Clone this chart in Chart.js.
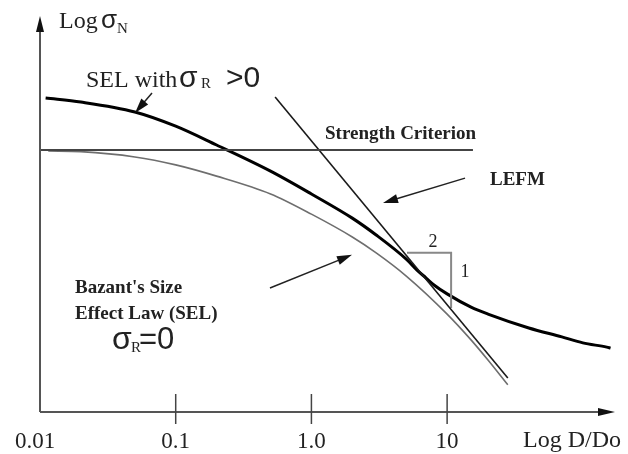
<!DOCTYPE html>
<html>
<head>
<meta charset="utf-8">
<script src="https://cdn.jsdelivr.net/npm/chart.js@4.4.0/dist/chart.umd.min.js"></script>
<style>
  html, body { margin: 0; padding: 0; background: #fff; }
  #wrap { width: 628px; height: 454px; position: relative; }
</style>
</head>
<body>
<div id="wrap"><canvas id="sizeChart"></canvas></div>
<script>
// D/Do and Log sigma_N (arbitrary log units)
const selRX = [0.011, 0.02, 0.05, 0.1, 0.2, 0.5, 1, 2, 3, 5, 6, 7, 8, 10, 15, 20, 40, 70, 100, 150, 160];
const selRY = [0.949, 0.937, 0.907, 0.864, 0.807, 0.728, 0.659, 0.586, 0.535, 0.462, 0.429, 0.405, 0.384, 0.357, 0.317, 0.296, 0.254, 0.227, 0.209, 0.196, 0.193];
const selX = [0.0115, 0.02, 0.05, 0.1, 0.2, 0.5, 1, 2, 3, 5, 10, 15, 20, 28];
const selY = [0.789, 0.787, 0.771, 0.747, 0.713, 0.659, 0.598, 0.529, 0.481, 0.411, 0.296, 0.218, 0.157, 0.082];
const lefmX = [0.54, 28];
const lefmY = [0.952, 0.103];
const strengthX = [0.01, 15.5];
const strengthY = [0.792, 0.792];
const slopeX = [5.06, 10.7, 10.7];
const slopeY = [0.481, 0.481, 0.314];
const tickValues = [0.01, 0.1, 1, 10];
const tickLabels = ["0.01", "0.1", "1.0", "10"];

function pts(xs, ys) {
  return xs.map((x, i) => ({ x: x, y: ys[i] }));
}

const SERIF = "'Liberation Serif', 'DejaVu Serif', serif";
const SANS = "'Liberation Sans', Arial, sans-serif";

function arrowHead(ctx, x0, y0, x1, y1, len, half) {
  const a = Math.atan2(y1 - y0, x1 - x0);
  ctx.beginPath();
  ctx.moveTo(x1, y1);
  ctx.lineTo(x1 - len * Math.cos(a) + half * Math.sin(a), y1 - len * Math.sin(a) - half * Math.cos(a));
  ctx.lineTo(x1 - len * Math.cos(a) - half * Math.sin(a), y1 - len * Math.sin(a) + half * Math.cos(a));
  ctx.closePath();
  ctx.fill();
}

function text(ctx, str, x, y, font, align) {
  ctx.font = font;
  ctx.textAlign = align || "left";
  ctx.textBaseline = "alphabetic";
  ctx.fillText(str, x, y);
}

// axes, ticks, arrows and labels
const decorations = {
  id: "decorations",
  afterDatasetsDraw(chart) {
    const ctx = chart.ctx;
    const area = chart.chartArea;
    const xs = chart.scales.x;
    const ys = chart.scales.y;
    ctx.save();

    // axes
    ctx.strokeStyle = "#555";
    ctx.fillStyle = "#111";
    ctx.lineWidth = 2;
    ctx.beginPath();
    ctx.moveTo(area.left, area.bottom);
    ctx.lineTo(area.left, area.top + 10);
    ctx.moveTo(area.left, area.bottom);
    ctx.lineTo(area.right - 10, area.bottom);
    ctx.stroke();
    arrowHead(ctx, area.left, area.bottom, area.left, area.top + 1, 16, 4);
    arrowHead(ctx, area.left, area.bottom, area.right, area.bottom, 17, 4);

    // ticks
    ctx.strokeStyle = "#444";
    ctx.lineWidth = 1.5;
    ctx.fillStyle = "#222";
    tickValues.forEach((v, i) => {
      const px = xs.getPixelForValue(v);
      if (i > 0) {
        ctx.beginPath();
        ctx.moveTo(px, area.bottom - 18);
        ctx.lineTo(px, area.bottom + 12);
        ctx.stroke();
      }
      text(ctx, tickLabels[i], i === 0 ? px - 5 : px, area.bottom + 36, "23px " + SERIF, "center");
    });
    text(ctx, "Log D/Do", 523, area.bottom + 35, "24px " + SERIF);

    // y axis title
    text(ctx, "Log", 59, 28, "24px " + SERIF);
    text(ctx, "\u03c3", 101, 28, "26px " + SANS);
    text(ctx, "N", 117, 33, "15px " + SERIF);

    // pointer arrows in data space
    const arrows = [
      { from: [0.0669, 0.964], to: [0.0501, 0.904] },
      { from: [13.55, 0.707], to: [3.37, 0.632] },
      { from: [0.495, 0.375], to: [1.99, 0.475] }
    ];
    ctx.strokeStyle = "#222";
    ctx.fillStyle = "#111";
    ctx.lineWidth = 1.5;
    arrows.forEach((a) => {
      const x0 = xs.getPixelForValue(a.from[0]);
      const y0 = ys.getPixelForValue(a.from[1]);
      const x1 = xs.getPixelForValue(a.to[0]);
      const y1 = ys.getPixelForValue(a.to[1]);
      const ang = Math.atan2(y1 - y0, x1 - x0);
      ctx.beginPath();
      ctx.moveTo(x0, y0);
      ctx.lineTo(x1 - 10 * Math.cos(ang), y1 - 10 * Math.sin(ang));
      ctx.stroke();
      arrowHead(ctx, x0, y0, x1, y1, 15, 4.5);
    });

    // annotations
    ctx.fillStyle = "#222";
    text(ctx, "SEL with", 86, 87, "24px " + SERIF);
    text(ctx, "\u03c3", 179, 87, "30px " + SANS);
    text(ctx, "R", 201, 88, "15px " + SERIF);
    text(ctx, ">0", 226, 87, "30px " + SANS);

    text(ctx, "Strength Criterion", 325, 139, "bold 19px " + SERIF);
    text(ctx, "LEFM", 490, 185, "bold 19px " + SERIF);
    text(ctx, "2", 433, 247, "18px " + SERIF, "center");
    text(ctx, "1", 465, 277, "18px " + SERIF, "center");

    text(ctx, "Bazant's Size", 75, 293, "bold 19px " + SERIF);
    text(ctx, "Effect Law (SEL)", 75, 319, "bold 19px " + SERIF);
    text(ctx, "\u03c3", 112, 349, "32px " + SANS);
    text(ctx, "R", 131, 352, "15px " + SERIF);
    text(ctx, "=0", 139, 349, "31px " + SANS);

    ctx.restore();
  }
};

new Chart(document.getElementById("sizeChart").getContext("2d"), {
  type: "line",
  data: {
    datasets: [
      {
        label: "Strength Criterion",
        data: pts(strengthX, strengthY),
        borderColor: "#444",
        borderWidth: 2
      },
      {
        label: "SEL (\u03c3R = 0)",
        data: pts(selX, selY),
        borderColor: "#6e6e6e",
        borderWidth: 1.6,
        cubicInterpolationMode: "monotone"
      },
      {
        label: "LEFM",
        data: pts(lefmX, lefmY),
        borderColor: "#1a1a1a",
        borderWidth: 1.6
      },
      {
        label: "slope 1:2",
        data: pts(slopeX, slopeY),
        borderColor: "#888",
        borderWidth: 2
      },
      {
        label: "SEL with \u03c3R > 0",
        data: pts(selRX, selRY),
        borderColor: "#000",
        borderWidth: 3,
        cubicInterpolationMode: "monotone"
      }
    ]
  },
  options: {
    responsive: true,
    maintainAspectRatio: false,
    animation: false,
    layout: { padding: { left: 40, right: 13, top: 15, bottom: 42 } },
    elements: { point: { radius: 0, hoverRadius: 0 } },
    plugins: { legend: { display: false }, tooltip: { enabled: false } },
    scales: {
      x: { type: "logarithmic", min: 0.01, max: 172.6, display: false },
      y: { type: "linear", min: 0, max: 1.2, display: false }
    }
  },
  plugins: [decorations]
});
</script>
</body>
</html>
